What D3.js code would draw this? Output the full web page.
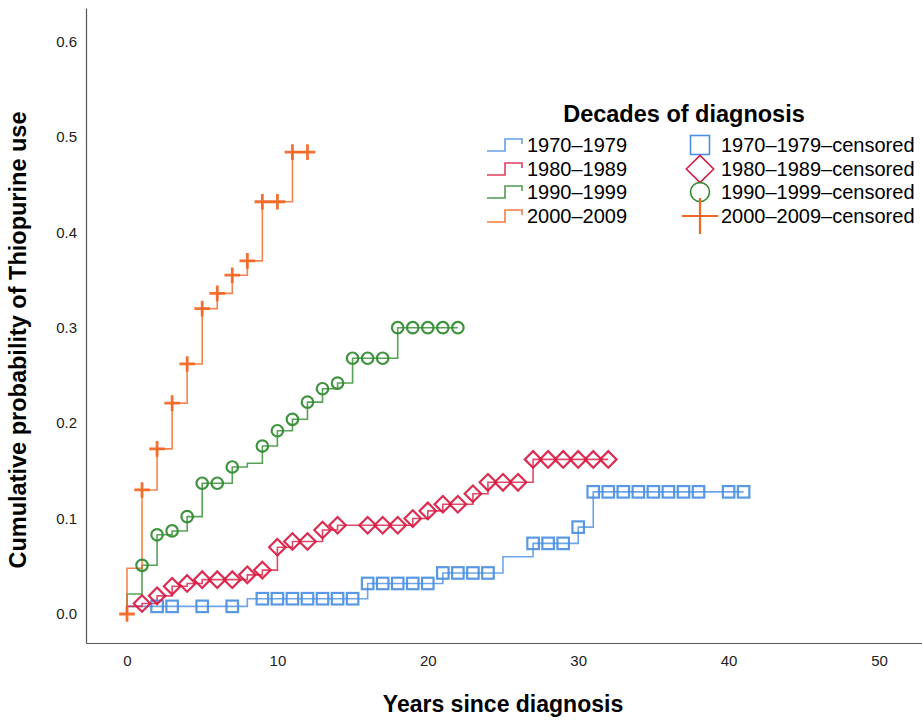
<!DOCTYPE html>
<html>
<head>
<meta charset="utf-8">
<script src="https://cdn.jsdelivr.net/npm/d3@7"></script>
<style>
  body { margin: 0; background: #fff; }
  svg { font-family: "Liberation Sans", Arial, sans-serif; }
  .tick text { fill: #222; }
</style>
</head>
<body>
<div id="chart"></div>
<script>
// Data
// each decade: step times (years) and the cumulative probability after that step
var decades = ["1970–1979", "1980–1989", "1990–1999", "2000–2009"];

var stepTimes1970 = [0, 8, 16, 21, 25, 27, 30, 31];
var stepVals1970  = [0.008, 0.016, 0.032, 0.043, 0.060, 0.074, 0.091, 0.128];
var censor1970    = [2, 3, 5, 7, 9, 10, 11, 12, 13, 14, 15, 16, 17, 18, 19, 20, 21, 22, 23, 24,
                     27, 28, 29, 30, 31, 32, 33, 34, 35, 36, 37, 38, 40, 41];

var stepTimes1980 = [0, 1, 2, 3, 4, 5, 8, 9, 10, 11, 13, 14, 19, 20, 21, 23, 24, 27];
var stepVals1980  = [0.008, 0.011, 0.019, 0.029, 0.032, 0.036, 0.041, 0.046, 0.070, 0.076,
                     0.088, 0.093, 0.100, 0.108, 0.115, 0.126, 0.138, 0.162];
var censor1980    = [1, 2, 3, 4, 5, 6, 7, 8, 9, 10, 11, 12, 13, 14, 16, 17, 18, 19, 20, 21,
                     22, 23, 24, 25, 26, 27, 28, 29, 30, 31, 32];

var stepTimes1990 = [0, 1, 2, 3, 4, 5, 7, 8, 9, 10, 11, 12, 13, 14, 15, 18];
var stepVals1990  = [0.021, 0.051, 0.083, 0.087, 0.102, 0.137, 0.154, 0.158, 0.176, 0.192,
                     0.204, 0.222, 0.236, 0.242, 0.268, 0.300];
var censor1990    = [1, 2, 3, 4, 5, 6, 7, 9, 10, 11, 12, 13, 14, 15, 16, 17, 18, 19, 20, 21, 22];

var stepTimes2000 = [0, 1, 2, 3, 4, 5, 6, 7, 8, 9, 11];
var stepVals2000  = [0.048, 0.130, 0.173, 0.221, 0.262, 0.320, 0.336, 0.355, 0.370, 0.432, 0.484];
var censor2000    = [0, 1, 2, 3, 4, 5, 6, 7, 8, 9, 10, 11, 12];

var xTicks = [0, 10, 20, 30, 40, 50];
var yTicks = [0, 0.1, 0.2, 0.3, 0.4, 0.5, 0.6];

var colors = ["#4a8fe2", "#d81b43", "#2e8b2e", "#f26522"];
var markerShapes = ["square", "diamond", "circle", "plus"];

var series = [
  { times: stepTimes1970, vals: stepVals1970, censor: censor1970 },
  { times: stepTimes1980, vals: stepVals1980, censor: censor1980 },
  { times: stepTimes1990, vals: stepVals1990, censor: censor1990 },
  { times: stepTimes2000, vals: stepVals2000, censor: censor2000 }
];

var svgWidth = 922, svgHeight = 721;

var svg = d3.select("#chart").append("svg")
    .attr("width", svgWidth)
    .attr("height", svgHeight);

// plot frame: left axis x=86, bottom axis y=643
var x = d3.scaleLinear().domain([-2.726, 52.86]).range([86, 922]);
var y = d3.scaleLinear().domain([-0.0304, 0.635]).range([643, 8]);

// axes (no tick marks in the original)
svg.append("g")
    .attr("transform", "translate(86,0)")
    .call(d3.axisLeft(y).tickValues(yTicks).tickSize(0).tickPadding(9).tickFormat(d3.format(".1f")))
    .call(g => g.select(".domain").attr("stroke", "#555").attr("stroke-width", 1.2))
    .selectAll("text").attr("font-size", 15);

svg.append("g")
    .attr("transform", "translate(0,643)")
    .call(d3.axisBottom(x).tickValues(xTicks).tickSize(0).tickPadding(12))
    .call(g => g.select(".domain").attr("stroke", "#555").attr("stroke-width", 1.2))
    .selectAll("text").attr("font-size", 15);

// axis titles
svg.append("text")
    .attr("transform", "translate(26,340) rotate(-90)")
    .attr("text-anchor", "middle")
    .attr("font-size", 23.5)
    .attr("font-weight", "bold")
    .text("Cumulative probability of Thiopurine use");

svg.append("text")
    .attr("x", 503)
    .attr("y", 712)
    .attr("text-anchor", "middle")
    .attr("font-size", 23)
    .attr("font-weight", "bold")
    .text("Years since diagnosis");

// value of the step curve at time t
function valueAt(s, t) {
    if (t === 0) return 0;
    var v = 0;
    s.times.forEach(function (st, i) { if (st <= t) v = s.vals[i]; });
    return v;
}

// step path: start at (0,0), go right then up at each step, end at last censor time
function stepPoints(s) {
    var pts = [[0, 0]];
    s.times.forEach(function (t, i) { pts.push([t, s.vals[i]]); });
    pts.push([d3.max(s.censor), s.vals[s.vals.length - 1]]);
    return pts;
}

var line = d3.line()
    .x(d => x(d[0]))
    .y(d => y(d[1]))
    .curve(d3.curveStepAfter);

function drawMarker(g, shape, color, size, sw) {
    if (shape === "square") {
        g.append("rect")
            .attr("x", -size / 2).attr("y", -size / 2)
            .attr("width", size).attr("height", size)
            .attr("fill", "none").attr("stroke", color).attr("stroke-width", sw);
    } else if (shape === "diamond") {
        var r = size * 0.72;
        g.append("path")
            .attr("d", `M0,${-r}L${r},0L0,${r}L${-r},0Z`)
            .attr("fill", "none").attr("stroke", color).attr("stroke-width", sw);
    } else if (shape === "circle") {
        g.append("circle")
            .attr("r", size / 2)
            .attr("fill", "none").attr("stroke", color).attr("stroke-width", sw);
    } else {
        var h = size * 0.6;
        g.append("path")
            .attr("d", `M${-h},0H${h}M0,${-h}V${h}`)
            .attr("fill", "none").attr("stroke", color).attr("stroke-width", sw + 0.6);
    }
}

// curves
series.forEach(function (s, i) {
    svg.append("path")
        .datum(stepPoints(s))
        .attr("d", line)
        .attr("fill", "none")
        .attr("stroke", colors[i])
        .attr("stroke-opacity", 0.8)
        .attr("stroke-width", 1.6);
});

// censor markers
series.forEach(function (s, i) {
    var mg = svg.append("g").attr("class", "censor-" + i);
    s.censor.forEach(function (t) {
        var g = mg.append("g")
            .attr("transform", `translate(${x(t)},${y(valueAt(s, t))})`)
            .attr("opacity", 0.92);
        drawMarker(g, markerShapes[i], colors[i], i === 3 ? 13 : 11.5, 2.2);
    });
});

// legend
var legend = svg.append("g");
legend.append("text")
    .attr("x", 684).attr("y", 122)
    .attr("text-anchor", "middle")
    .attr("font-size", 23.5)
    .attr("font-weight", "bold")
    .text("Decades of diagnosis");

var rowY = [145, 169, 192, 216];
decades.forEach(function (d, i) {
    var cy = rowY[i];
    legend.append("path")
        .attr("d", `M487,${cy + 6}H505V${cy - 6}H522V${cy - 1}`)
        .attr("fill", "none")
        .attr("stroke", colors[i])
        .attr("stroke-width", 1.6)
        .attr("stroke-opacity", 0.85);
    legend.append("text")
        .attr("x", 527).attr("y", cy + 7)
        .attr("font-size", 20)
        .text(d);

    var mg = legend.append("g").attr("transform", `translate(700,${cy})`);
    drawMarker(mg, markerShapes[i], colors[i], i === 3 ? 30 : 19, 1.6);
    legend.append("text")
        .attr("x", 721).attr("y", cy + 7)
        .attr("font-size", 20)
        .text(d + "–censored");
});
</script>
</body>
</html>
